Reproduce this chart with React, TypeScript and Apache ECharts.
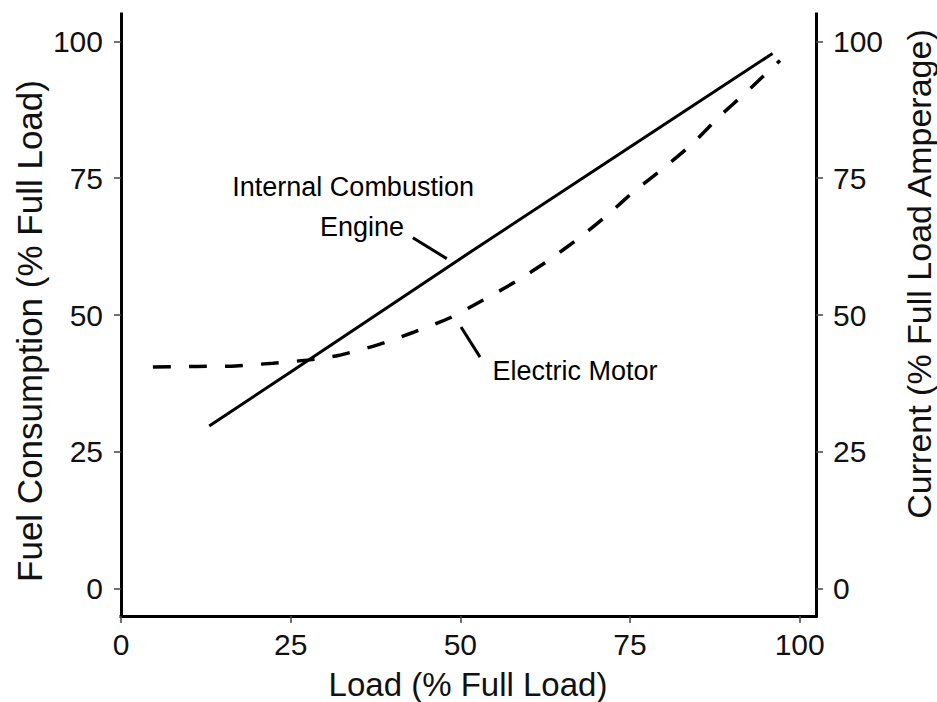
import React, { useEffect, useRef } from "react";
import * as echarts from "echarts";

const tickValues = [0, 25, 50, 75, 100];

const engineLoad = [13, 25, 50, 75, 96];
const engineFuel = [29.7, 39.6, 60.3, 80.7, 97.8];

const motorLoad = [4.7, 11.3, 16.9, 22.4, 27.8, 32, 37.7, 43, 48.5, 53.3, 58.3, 62.9, 67.3, 71.6, 75.6, 79.8, 84.2, 88.2, 92.2, 97.1];
const motorCurrent = [40.5, 40.6, 40.7, 41.2, 41.8, 42.6, 44.5, 46.8, 49.5, 52.7, 56.2, 59.9, 63.9, 68.2, 72.6, 76.7, 81.3, 86.3, 90.8, 96.5];

const engineLeaderX = [43.0, 48.0];
const engineLeaderY = [64.1, 60.3];
const motorLeaderX = [50.1, 52.9];
const motorLeaderY = [47.8, 42.3];

const annotationTexts = ["Internal Combustion", "Engine", "Electric Motor"];
const annotationX = [34.2, 35.5, 66.9];
const annotationY = [73.4, 66.1, 39.7];

const xTitle = "Load (% Full Load)";
const yLeftTitle = "Fuel Consumption (% Full Load)";
const yRightTitle = "Current (% Full Load Amperage)";

const FONT = "'Liberation Sans', Arial, sans-serif";

const zip = (a: number[], b: number[]) => a.map((v, i) => [v, b[i]]);

export default function App() {
  const ref = useRef<HTMLDivElement>(null);
  useEffect(() => {
    if (!ref.current) return;
    const chart = echarts.init(ref.current, undefined, { renderer: "svg" });
    const axisLine = { show: true, onZero: false, lineStyle: { color: "#000", width: 3, cap: "square" } };
    const axisTick = { show: true, length: 7, customValues: tickValues, lineStyle: { color: "#444", width: 1.5 } };
    const yAxisBase = {
      type: "value",
      min: -5,
      max: 105,
      splitLine: { show: false },
      axisLine,
      axisTick,
    };
    chart.setOption({
      animation: false,
      backgroundColor: "#fff",
      grid: { left: 121, right: 121, top: 14, bottom: 86, containLabel: false },
      xAxis: {
        type: "value",
        min: 0,
        max: 102.4,
        splitLine: { show: false },
        axisLine,
        axisTick,
        axisLabel: { customValues: tickValues, fontSize: 30, color: "#111", fontFamily: FONT, margin: 13 },
      },
      yAxis: [
        {
          ...yAxisBase,
          position: "left",
          axisLabel: { customValues: tickValues, fontSize: 30, color: "#111", fontFamily: FONT, margin: 18 },
        },
        {
          ...yAxisBase,
          position: "right",
          axisLabel: { customValues: tickValues, fontSize: 30, color: "#111", fontFamily: FONT, margin: 17 },
        },
      ],
      graphic: [
        {
          type: "text",
          x: 468,
          y: 684,
          style: { text: xTitle, fontSize: 33, fontFamily: FONT, fill: "#111", align: "center", verticalAlign: "middle" },
        },
        {
          type: "text",
          x: 29,
          y: 331,
          rotation: Math.PI / 2,
          style: { text: yLeftTitle, fontSize: 35, fontFamily: FONT, fill: "#111", align: "center", verticalAlign: "middle" },
        },
        {
          type: "text",
          x: 919,
          y: 274,
          rotation: Math.PI / 2,
          style: { text: yRightTitle, fontSize: 34, fontFamily: FONT, fill: "#111", align: "center", verticalAlign: "middle" },
        },
      ],
      series: [
        {
          type: "line",
          data: zip(engineLoad, engineFuel),
          symbol: "none",
          lineStyle: { color: "#000", width: 3 },
        },
        {
          type: "line",
          data: zip(motorLoad, motorCurrent),
          symbol: "none",
          smooth: 0.2,
          lineStyle: { color: "#000", width: 3.5, type: [18, 18] },
        },
        {
          type: "line",
          data: zip(engineLeaderX, engineLeaderY),
          symbol: "none",
          lineStyle: { color: "#000", width: 3 },
        },
        {
          type: "line",
          data: zip(motorLeaderX, motorLeaderY),
          symbol: "none",
          lineStyle: { color: "#000", width: 3 },
        },
        {
          type: "scatter",
          symbolSize: 0,
          itemStyle: { color: "#000", opacity: 1 },
          data: annotationTexts.map((t, i) => ({ value: [annotationX[i], annotationY[i]], name: t })),
          label: {
            show: true,
            position: "inside",
            formatter: (p: any) => p.name,
            fontSize: 27,
            fontFamily: FONT,
            color: "#000",
            opacity: 1,
            textBorderWidth: 0,
          },
        },
      ],
    });
    return () => chart.dispose();
  }, []);
  return <div ref={ref} style={{ position: "fixed", left: 0, top: 0, width: 937, height: 702 }} />;
}
